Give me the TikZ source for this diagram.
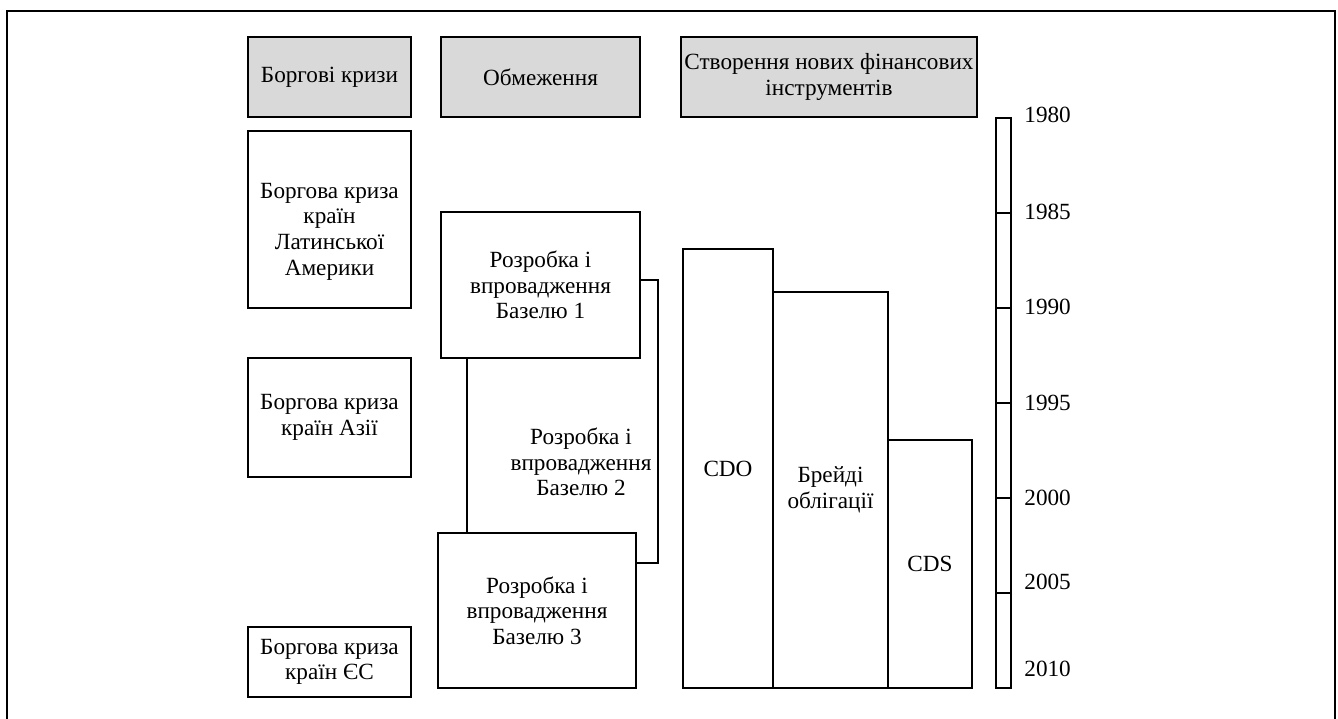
\documentclass[tikz,border=0pt]{standalone}
\usepackage{fontspec}
\setmainfont{Liberation Serif}
\usetikzlibrary{positioning}
\definecolor{headgray}{RGB}{217,217,217}

\begin{document}
\begin{tikzpicture}[x=0.5pt, y=-0.5pt,
	font=\fontsize{11.6}{12.8}\selectfont,
	box/.style={draw, line width=0.6pt, align=center, inner sep=0pt, outer sep=0pt},
	headbox/.style={box, fill=headgray, minimum height=40pt},
	crisisbox/.style={box, minimum width=81.5pt},
	yearbox/.style={draw, line width=0.6pt, minimum width=7.5pt, minimum height=47.5pt, inner sep=0pt, outer sep=0pt},
	]
	\clip (0,0) rectangle (1338,718);
	\fill[white] (0,0) rectangle (1338,718);
	%Frame
	\draw[line width=1.3pt] (7,740) -- (7,11) -- (1335,11) -- (1335,740);

	%Headers
	\node[headbox, minimum width=81.5pt]  (h1) at (329.5,77) {Боргові кризи};
	\node[headbox, minimum width=99.5pt]  (h2) at (540.5,77) {Обмеження};
	\node[headbox, minimum width=148pt]   (h3) at (829,77)   {Створення нових фінансових\\інструментів};

	%Crises
	\node[crisisbox, minimum height=88.5pt] (k1) at (329.5,219.5) {};
	\node[align=center, inner sep=0pt]      (k1text) at ([yshift=-6pt]k1.center) {Боргова криза\\країн\\Латинської\\Америки};
	\node[crisisbox, minimum height=59.5pt] (k2) at (329.5,417.5) {Боргова криза\\країн Азії};
	\node[crisisbox, minimum height=35pt]   (k3) at (329.5,662)   {Боргова криза\\країн ЄС};

	%Basel
	\node[box, minimum width=99.5pt, minimum height=73pt]  (b1) at (540.5,285) {Розробка і\\впровадження\\Базелю 1};
	\node[box, minimum width=99pt, minimum height=77.5pt]  (b3) at (537,610.5) {Розробка і\\впровадження\\Базелю 3};
	\node[align=center, inner sep=0pt]                     (b2) at (581,462)   {Розробка і\\впровадження\\Базелю 2};

	%Instruments
	\node[box, minimum width=45pt, minimum height=219.5pt, anchor=south west]  (cdo)   at (683,688)         {CDO};
	\node[box, minimum width=57.5pt, minimum height=198pt, anchor=south west]  (brady) at (cdo.south east)   {Брейді\\облігації};
	\node[box, minimum width=42pt, minimum height=124pt, anchor=south west]    (cds)   at (brady.south east) {CDS};

	%Timeline
	\node[yearbox, anchor=north] (t1) at (1003.5,118) {};
	\foreach \i [remember=\i as \j (initially 1)] in {2,...,6}
		\node[yearbox, anchor=north] (t\i) at (t\j.south) {};
	\foreach \yr/\yy in {1980/115, 1985/212, 1990/307, 1995/403, 2000/498, 2005/582, 2010/669}
		\node[anchor=west, inner sep=0pt] (y\yr) at (1024,\yy) {\yr};

	%Lines
	\draw[line width=0.6pt] ([xshift=13pt]b1.south west) -- ([xshift=13pt]b1.south west |- b3.north);
	\draw[line width=0.6pt] ([yshift=2.5pt]b1.east) -- ++(18,0) |- ([yshift=23.75pt]b3.east);
\end{tikzpicture}
\end{document}
